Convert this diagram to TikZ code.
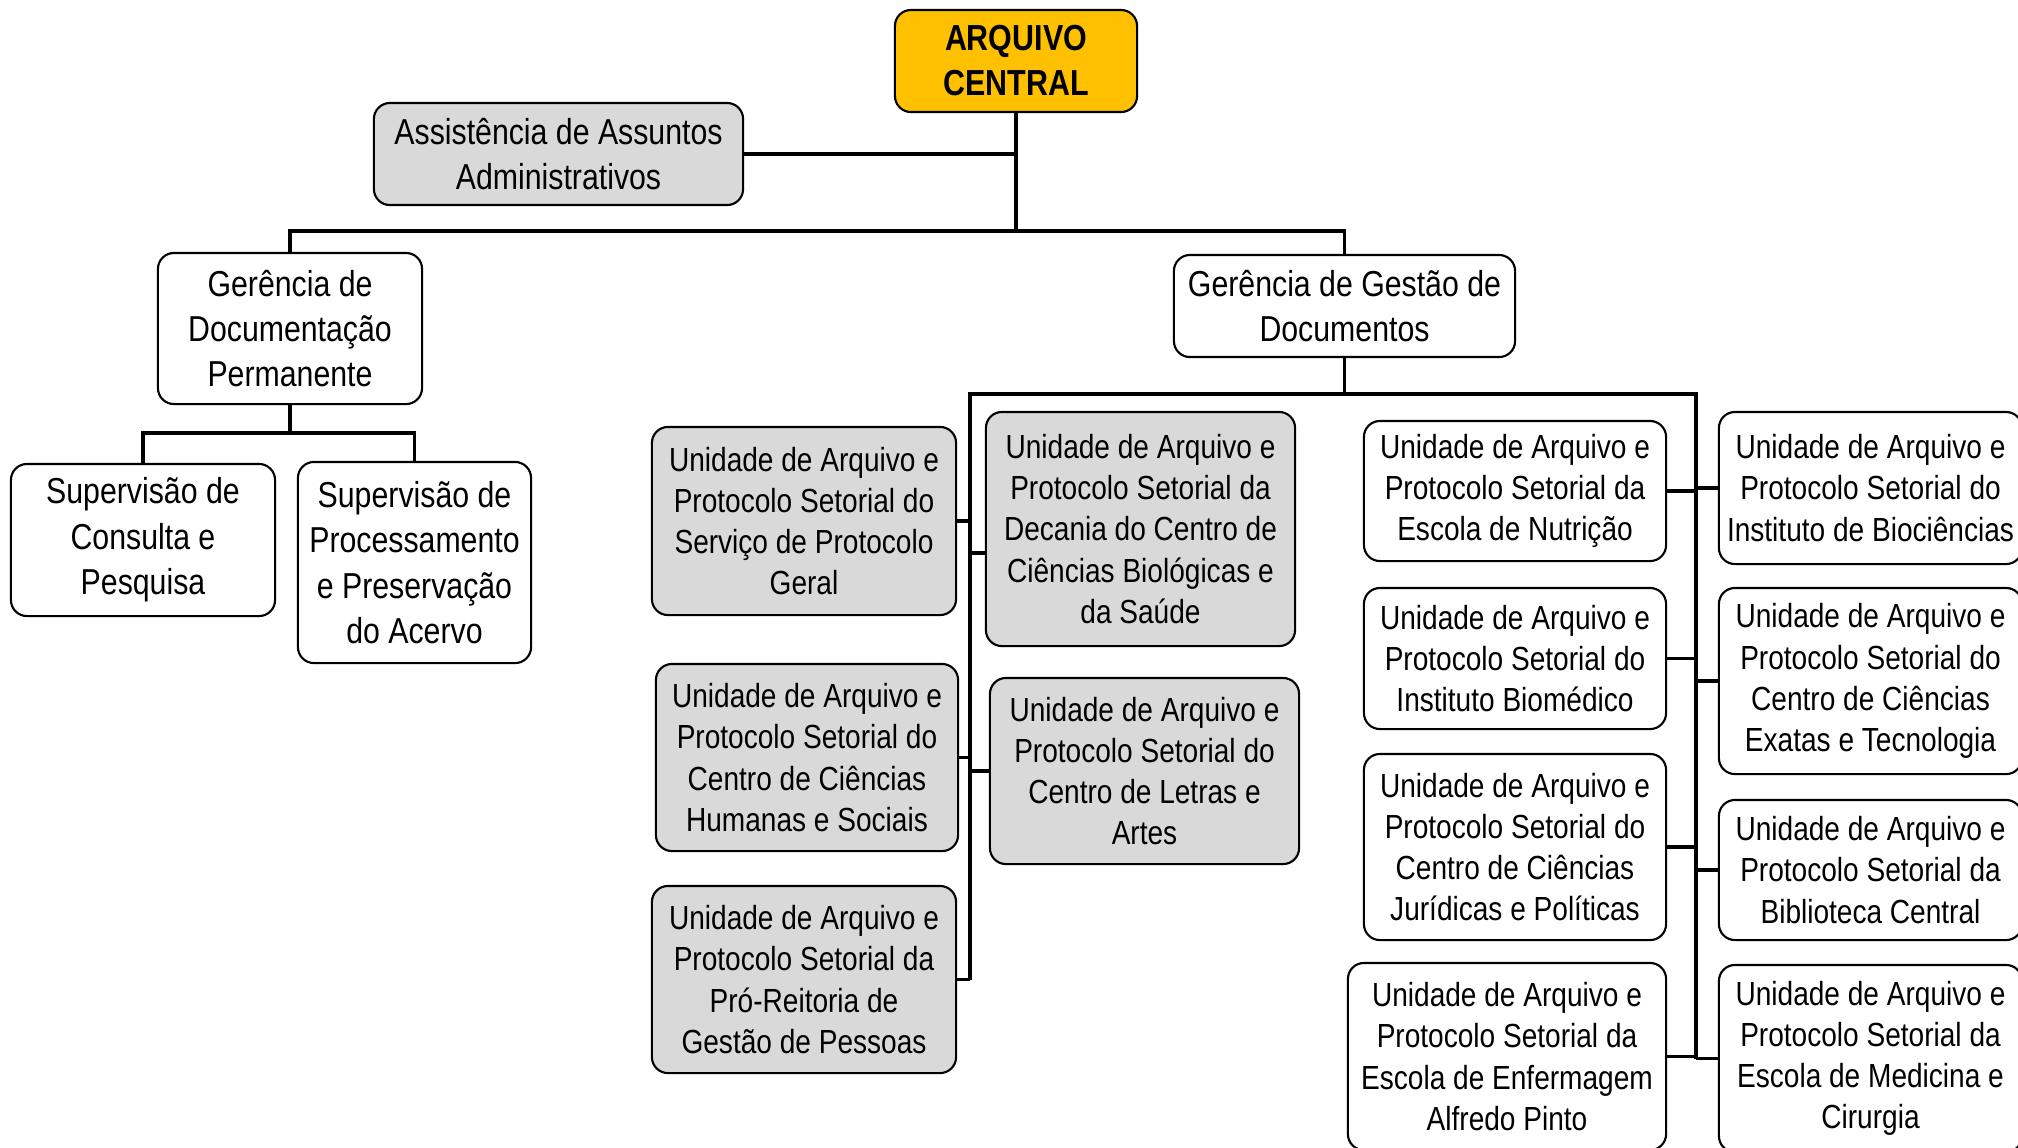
\documentclass[tikz,border=0pt]{standalone}
\usepackage{fontspec}
\setmainfont[FakeStretch=0.84]{Liberation Sans}

\definecolor{arqorange}{HTML}{FFC000}
\definecolor{unitgray}{HTML}{D9D9D9}

\tikzset{
  org/.style={draw, rounded corners=0.16cm, line width=0.6pt, align=center, inner sep=0pt},
  head/.style={org, font=\fontsize{10.25}{12.9}\selectfont},
  unit/.style={org, font=\fontsize{9.5}{11.7}\selectfont},
  grayunit/.style={unit, fill=unitgray},
}

\begin{document}
\begin{tikzpicture}[x=0.01cm, y=-0.01cm]
      \useasboundingbox (0,0) rectangle (2018,1147);
      \clip (0,0) rectangle (2018,1147);
      % top levels
      \node[org, fill=arqorange, font=\bfseries\fontsize{10.3}{12.8}\selectfont,
        minimum width=2.42cm, minimum height=1.02cm] (arquivo) at (1016,61) {ARQUIVO\\CENTRAL};
      \node[head, fill=unitgray, minimum width=3.69cm, minimum height=1.02cm] (assistencia) at (558.5,154) {Assistência de Assuntos\\Administrativos};
      \node[head, minimum width=2.64cm, minimum height=1.51cm] (documentacao) at (290,328.5) {Gerência de\\Documentação\\Permanente};
      \node[head, minimum width=3.41cm, minimum height=1.02cm] (gestao) at (1344.5,306) {Gerência de Gestão de\\Documentos};
      \node[head, minimum width=2.64cm, minimum height=1.52cm] (consulta) at (143,540) {Supervisão de\\Consulta e\\Pesquisa};
      \node[head, minimum width=2.33cm, minimum height=2.01cm] (processamento) at (414.5,562.5) {Supervisão de\\Processamento\\e Preservação\\do Acervo};
      % units on the left bus
      \node[grayunit, minimum width=3.04cm, minimum height=1.88cm] (protocolo) at (804,521) {Unidade de Arquivo e\\Protocolo Setorial do\\Serviço de Protocolo\\Geral};
      \node[grayunit, minimum width=3.02cm, minimum height=1.87cm] (humanas) at (807,757.5) {Unidade de Arquivo e\\Protocolo Setorial do\\Centro de Ciências\\Humanas e Sociais};
      \node[grayunit, minimum width=3.04cm, minimum height=1.87cm] (pessoas) at (804,979.5) {Unidade de Arquivo e\\Protocolo Setorial da\\Pró-Reitoria de\\Gestão de Pessoas};
      \node[grayunit, minimum width=3.09cm, minimum height=2.34cm] (decania) at (1140.5,529) {Unidade de Arquivo e\\Protocolo Setorial da\\Decania do Centro de\\Ciências Biológicas e\\da Saúde};
      \node[grayunit, minimum width=3.09cm, minimum height=1.86cm] (letras) at (1144.5,771) {Unidade de Arquivo e\\Protocolo Setorial do\\Centro de Letras e\\Artes};
      % units on the right bus
      \node[unit, minimum width=3.02cm, minimum height=1.40cm] (nutricao) at (1515,491) {Unidade de Arquivo e\\Protocolo Setorial da\\Escola de Nutrição};
      \node[unit, minimum width=3.02cm, minimum height=1.41cm] (biomedico) at (1515,658.5) {Unidade de Arquivo e\\Protocolo Setorial do\\Instituto Biomédico};
      \node[unit, minimum width=3.02cm, minimum height=1.86cm] (juridicas) at (1515,847) {Unidade de Arquivo e\\Protocolo Setorial do\\Centro de Ciências\\Jurídicas e Políticas};
      \node[unit, minimum width=3.18cm, minimum height=1.87cm] (enfermagem) at (1507,1056.5) {Unidade de Arquivo e\\Protocolo Setorial da\\Escola de Enfermagem\\Alfredo Pinto};
      \node[unit, minimum width=3.03cm, minimum height=1.52cm] (biociencias) at (1870.5,488) {Unidade de Arquivo e\\Protocolo Setorial do\\Instituto de Biociências};
      \node[unit, minimum width=3.03cm, minimum height=1.86cm] (exatas) at (1870.5,681) {Unidade de Arquivo e\\Protocolo Setorial do\\Centro de Ciências\\Exatas e Tecnologia};
      \node[unit, minimum width=3.03cm, minimum height=1.40cm] (biblioteca) at (1870.5,870) {Unidade de Arquivo e\\Protocolo Setorial da\\Biblioteca Central};
      \node[unit, minimum width=3.03cm, minimum height=1.87cm] (medicina) at (1870.5,1058.5) {Unidade de Arquivo e\\Protocolo Setorial da\\Escola de Medicina e\\Cirurgia};
      % bus points
      \coordinate (topbus) at (1016,231);
      \coordinate (docbus) at (290,433);
      \coordinate (gestaobus) at (1344.5,394);
      \coordinate (leftbus) at (970,394);
      \coordinate (rightbus) at (1696,394);
      \begin{scope}[line width=0.95pt]
        \draw (arquivo.south) -- (topbus);
        \draw (assistencia.east) -- (assistencia.east -| topbus);
        \draw (documentacao.north) |- (topbus) -| (gestao.north);
        \draw (documentacao.south) -- (docbus);
        \draw (consulta.north) |- (docbus) -| (processamento.north);
        \draw (gestao.south) -- (gestaobus);
        \draw (leftbus |- pessoas.east) -- (leftbus) -- (rightbus) -- (rightbus |- medicina.west);
        \draw (protocolo.east) -- (protocolo.east -| leftbus);
        \draw (humanas.east) -- (humanas.east -| leftbus);
        \draw (pessoas.east) -- (pessoas.east -| leftbus);
        \draw ([yshift=-0.24cm]decania.west) -- ([yshift=-0.24cm]decania.west -| leftbus);
        \draw (letras.west) -- (letras.west -| leftbus);
        \draw (nutricao.east) -- (nutricao.east -| rightbus);
        \draw (biomedico.east) -- (biomedico.east -| rightbus);
        \draw (juridicas.east) -- (juridicas.east -| rightbus);
        \draw (enfermagem.east) -- (enfermagem.east -| rightbus);
        \draw (biociencias.west) -- (biociencias.west -| rightbus);
        \draw (exatas.west) -- (exatas.west -| rightbus);
        \draw (biblioteca.west) -- (biblioteca.west -| rightbus);
        \draw (medicina.west) -- (medicina.west -| rightbus);
      \end{scope}
    \end{tikzpicture}
\end{document}
